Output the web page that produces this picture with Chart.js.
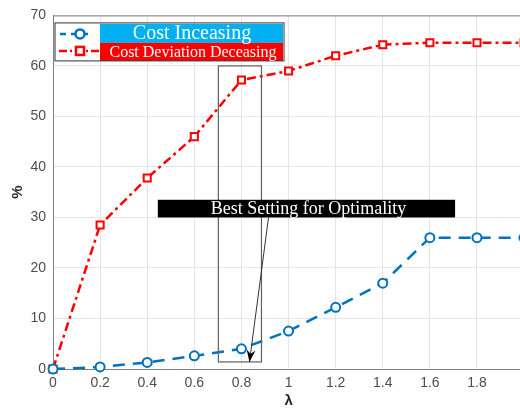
<!DOCTYPE html>
<html>
<head>
<meta charset="utf-8">
<script src="https://cdn.jsdelivr.net/npm/chart.js@4"></script>
<style>
  html, body { margin: 0; padding: 0; background: #fff; overflow: hidden; }
  #wrap { width: 534px; height: 410px; }
</style>
</head>
<body>
<div id="wrap"><canvas id="chart" width="534" height="410"></canvas></div>
<script>
// waarden
let lambdas = [0, 0.2, 0.4, 0.6, 0.8, 1, 1.2, 1.4, 1.6, 1.8, 2];
let costIncreasing = [0, 0.4, 1.3, 2.6, 4.0, 7.5, 12.2, 17.0, 26, 26, 26];
let deviationDecreasing = [0, 28.5, 37.8, 46, 57.2, 59, 62, 64.2, 64.6, 64.6, 64.6];
let yTicks = [0, 10, 20, 30, 40, 50, 60, 70];
let xTicks = [0, 0.2, 0.4, 0.6, 0.8, 1, 1.2, 1.4, 1.6, 1.8, 2];
let seriesNames = ['Cost Inceasing', 'Cost Deviation Deceasing'];
let noteText = 'Best Setting for Optimality';

function pts(ys) {
  return lambdas.map((x, i) => ({ x: x, y: ys[i] }));
}

// box, legend, note and arrow drawn on top
let extras = {
  id: 'extras',
  afterDatasetsDraw(chart) {
    let c = chart.ctx, a = chart.chartArea;
    let xs = chart.scales.x, ys = chart.scales.y;
    c.save();
    // top + right axis lines
    c.strokeStyle = '#7f7f7f';
    c.lineWidth = 1;
    c.beginPath();
    c.moveTo(a.left, a.top + 0.5); c.lineTo(a.right, a.top + 0.5);
    c.moveTo(a.right - 0.5, a.top); c.lineTo(a.right - 0.5, a.bottom);
    c.stroke();

    // rectangle around best lambda
    let rx1 = xs.getPixelForValue(0.702), rx2 = xs.getPixelForValue(0.885);
    let ry1 = ys.getPixelForValue(60), ry2 = ys.getPixelForValue(1.4);
    c.strokeStyle = '#606060';
    c.lineWidth = 1.2;
    c.strokeRect(rx1, ry1, rx2 - rx1, ry2 - ry1);

    // note box
    let nx1 = xs.getPixelForValue(0.445), nx2 = xs.getPixelForValue(1.707);
    let ny1 = ys.getPixelForValue(33.5), ny2 = ys.getPixelForValue(30);
    c.fillStyle = '#000';
    c.fillRect(nx1, ny1, nx2 - nx1, ny2 - ny1);
    c.fillStyle = '#fff';
    c.font = '18px "Liberation Serif"';
    c.textAlign = 'center';
    c.textBaseline = 'middle';
    c.fillText(noteText, (nx1 + nx2) / 2 + 2, (ny1 + ny2) / 2 + 1);

    // arrow
    let ax1 = xs.getPixelForValue(0.915), ay1 = ys.getPixelForValue(30);
    let ax2 = xs.getPixelForValue(0.834), ay2 = ys.getPixelForValue(1.4);
    c.strokeStyle = '#333';
    c.lineWidth = 1;
    c.beginPath(); c.moveTo(ax1, ay1); c.lineTo(ax2, ay2); c.stroke();
    let ang = Math.atan2(ay2 - ay1, ax2 - ax1);
    c.fillStyle = '#000';
    c.beginPath();
    c.moveTo(ax2, ay2);
    c.lineTo(ax2 - 13 * Math.cos(ang - 0.35), ay2 - 13 * Math.sin(ang - 0.35));
    c.lineTo(ax2 - 8 * Math.cos(ang), ay2 - 8 * Math.sin(ang));
    c.lineTo(ax2 - 13 * Math.cos(ang + 0.35), ay2 - 13 * Math.sin(ang + 0.35));
    c.closePath();
    c.fill();

    // legend
    let lx = a.left + 2, ly = a.top + 7.5, lw = 229, lh = 38;
    c.fillStyle = '#fff';
    c.fillRect(lx, ly, lw, lh);
    c.fillStyle = '#00b0f0';
    c.fillRect(lx + 45, ly + 1, lw - 46, 19);
    c.fillStyle = '#ff0000';
    c.fillRect(lx + 45, ly + 20, lw - 46, 18);
    c.strokeStyle = '#333';
    c.lineWidth = 1;
    c.strokeRect(lx, ly, lw, lh);
    c.fillStyle = '#fff';
    c.font = '20px "Liberation Serif"';
    c.fillText(seriesNames[0], lx + 137, ly + 11);
    c.font = '16px "Liberation Serif"';
    c.fillText(seriesNames[1], lx + 138, ly + 29.5);
    // legend samples
    c.lineWidth = 2.5;
    c.strokeStyle = '#0072bd';
    c.setLineDash([6, 5]);
    c.beginPath(); c.moveTo(lx + 5, ly + 11); c.lineTo(lx + 35, ly + 11); c.stroke();
    c.setLineDash([]);
    c.fillStyle = '#fff';
    c.beginPath(); c.arc(lx + 25, ly + 11, 4.5, 0, Math.PI * 2); c.fill(); c.stroke();
    c.strokeStyle = '#ff0000';
    c.setLineDash([8, 3, 2, 3]);
    c.beginPath(); c.moveTo(lx + 4, ly + 28); c.lineTo(lx + 44, ly + 28); c.stroke();
    c.setLineDash([]);
    c.fillRect(lx + 21, ly + 24, 8, 8);
    c.strokeRect(lx + 21, ly + 24, 8, 8);
    c.restore();
  }
};

let ctx = document.getElementById('chart').getContext('2d');
let chart = new Chart(ctx, {
  type: 'line',
  data: {
    datasets: [{
      label: seriesNames[0],
      data: pts(costIncreasing),
      borderColor: '#0072bd',
      backgroundColor: '#ffffff',
      borderWidth: 2.5,
      borderDash: [12, 8],
      pointStyle: 'circle',
      pointRadius: 4.5,
      pointBorderWidth: 2,
      pointBorderColor: '#0072bd',
      pointBackgroundColor: '#ffffff',
      fill: false,
      tension: 0
    }, {
      label: seriesNames[1],
      data: pts(deviationDecreasing),
      borderColor: '#ff0000',
      backgroundColor: '#ffffff',
      borderWidth: 2.5,
      borderDash: [9, 4, 3, 4],
      pointStyle: 'rect',
      pointRadius: 5,
      pointBorderWidth: 2,
      pointBorderColor: '#ff0000',
      pointBackgroundColor: '#ffffff',
      fill: false,
      tension: 0
    }]
  },
  options: {
    responsive: false,
    animation: false,
    clip: false,
    layout: { padding: { top: 15, right: 1, left: 0, bottom: 0 } },
    plugins: { legend: { display: false }, tooltip: { enabled: false } },
    scales: {
      x: {
        type: 'linear',
        min: 0, max: 2,
        afterBuildTicks: s => { s.ticks = xTicks.map(v => ({ value: v })); },
        afterFit: s => { s.height = 41; },
        grid: { color: '#e6e6e6', drawTicks: false },
        border: { display: true, color: '#7f7f7f', width: 1 },
        ticks: {
          color: '#4d4d4d', padding: 6,
          font: { family: '"Liberation Sans"', size: 14 },
          callback: v => String(v)
        },
        title: {
          display: true, text: 'λ', color: '#262626', padding: { top: 0, bottom: 0 },
          font: { family: '"Liberation Sans"', size: 15, weight: 'bold' }
        }
      },
      y: {
        min: 0, max: 70,
        afterBuildTicks: s => { s.ticks = yTicks.map(v => ({ value: v })); },
        afterFit: s => { s.width = 53; },
        grid: { color: '#e6e6e6', drawTicks: false },
        border: { display: true, color: '#7f7f7f', width: 1 },
        ticks: {
          color: '#4d4d4d', padding: 7,
          font: { family: '"Liberation Sans"', size: 14 }
        },
        title: {
          display: true, text: '%', color: '#262626', padding: { top: 9, bottom: 0 },
          font: { family: '"Liberation Sans"', size: 15, weight: 'bold' }
        }
      }
    }
  },
  plugins: [extras]
});
</script>
</body>
</html>
